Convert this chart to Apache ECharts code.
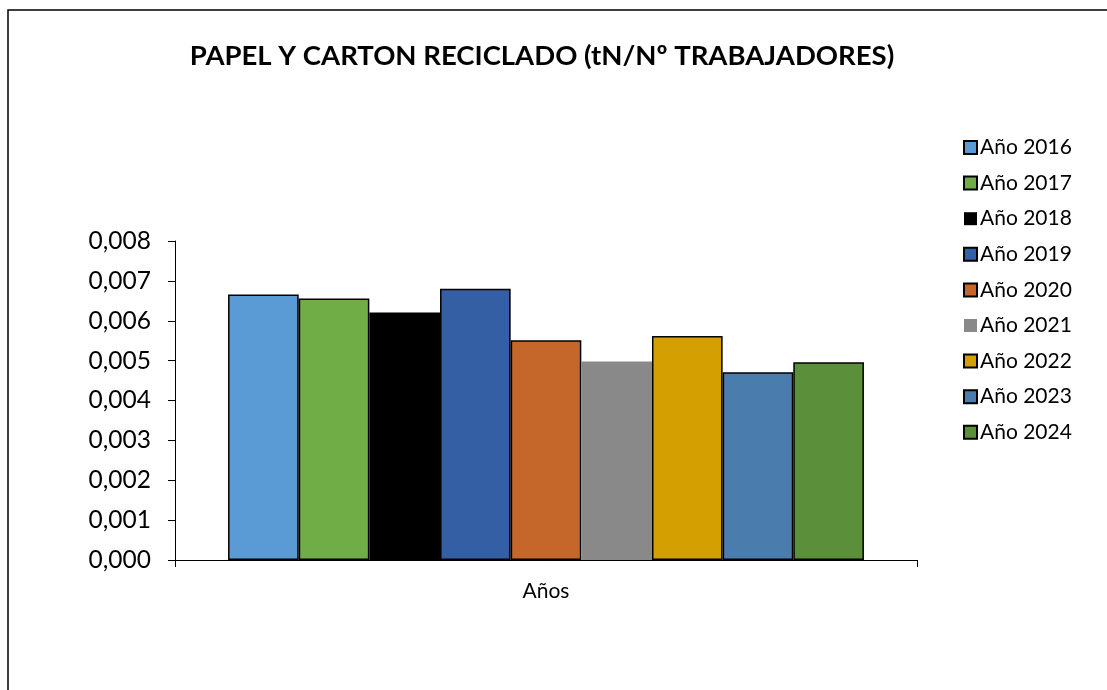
<!DOCTYPE html>
<html>
<head>
<meta charset="utf-8">
<script src="https://cdn.jsdelivr.net/npm/echarts@6/dist/echarts.min.js"></script>
<style>html,body{margin:0;padding:0;background:#fff}#c{width:1107px;height:690px}</style>
</head>
<body>
<div id="c"></div>
<script>
const categories = ['Años'];
const seriesNames = ['Año 2016','Año 2017','Año 2018','Año 2019','Año 2020','Año 2021','Año 2022','Año 2023','Año 2024'];
const seriesValues = [0.00666, 0.00656, 0.00621, 0.00680, 0.00551, 0.00498, 0.00562, 0.00471, 0.00496];
const yTicks = [0, 0.001, 0.002, 0.003, 0.004, 0.005, 0.006, 0.007, 0.008];

const palette = ['#5B9BD5','#70AD47','#000000','#355FA4','#C5672A','#898989','#D49F00','#4A7DAE','#5B8F3A'];
const bordered = [true,true,false,true,true,false,true,true,true];
const FONT = 'Lato, "Open Sans", sans-serif';

const chart = echarts.init(document.getElementById('c'));
chart.setOption({
  animation: false,
  backgroundColor: '#fff',
  title: {
    text: 'PAPEL Y CARTON RECICLADO (tN/Nº TRABAJADORES)',
    left: 537, textAlign: 'center', top: 37,
    textStyle: { fontFamily: FONT, fontSize: 27.5, fontWeight: 'bold', color: '#000' }
  },
  graphic: [{
    type: 'rect', shape: { x: 8, y: 10, width: 1200, height: 700 },
    style: { fill: null, stroke: '#000', lineWidth: 1.5 }, silent: true
  }],
  legend: {
    orient: 'vertical', left: 958, top: 132,
    itemWidth: 13, itemHeight: 13, itemGap: 14.6,
    textStyle: { fontFamily: FONT, fontSize: 21, color: '#000', padding: [0,0,0,-2] },
    data: seriesNames.map(n => ({ name: n, icon: 'rect' }))
  },
  grid: { left: 175, right: 190, top: 241, bottom: 130 },
  xAxis: {
    type: 'category', data: categories,
    axisLine: { lineStyle: { color: '#000', width: 1 } },
    axisTick: { show: true, length: 7, lineStyle: { color: '#000' } },
    axisLabel: { fontFamily: FONT, fontSize: 21, color: '#000', margin: 21 }
  },
  yAxis: {
    type: 'value', min: yTicks[0], max: yTicks[yTicks.length-1], interval: 0.001,
    splitLine: { show: false },
    axisLine: { show: true, lineStyle: { color: '#000', width: 1 } },
    axisTick: { show: true, length: 7, lineStyle: { color: '#000' } },
    axisLabel: { fontFamily: FONT, fontSize: 24.5, color: '#000', margin: 24,
      formatter: v => v.toFixed(3).replace('.', ',') }
  },
  series: seriesNames.map((n, i) => ({
    name: n, type: 'bar',
    data: [seriesValues[i]],
    barGap: '0%', barCategoryGap: '14.3%',
    itemStyle: {
      color: palette[i],
      borderColor: bordered[i] ? '#000' : palette[i],
      borderWidth: bordered[i] ? 1.5 : 0
    }
  }))
});
</script>
</body>
</html>
